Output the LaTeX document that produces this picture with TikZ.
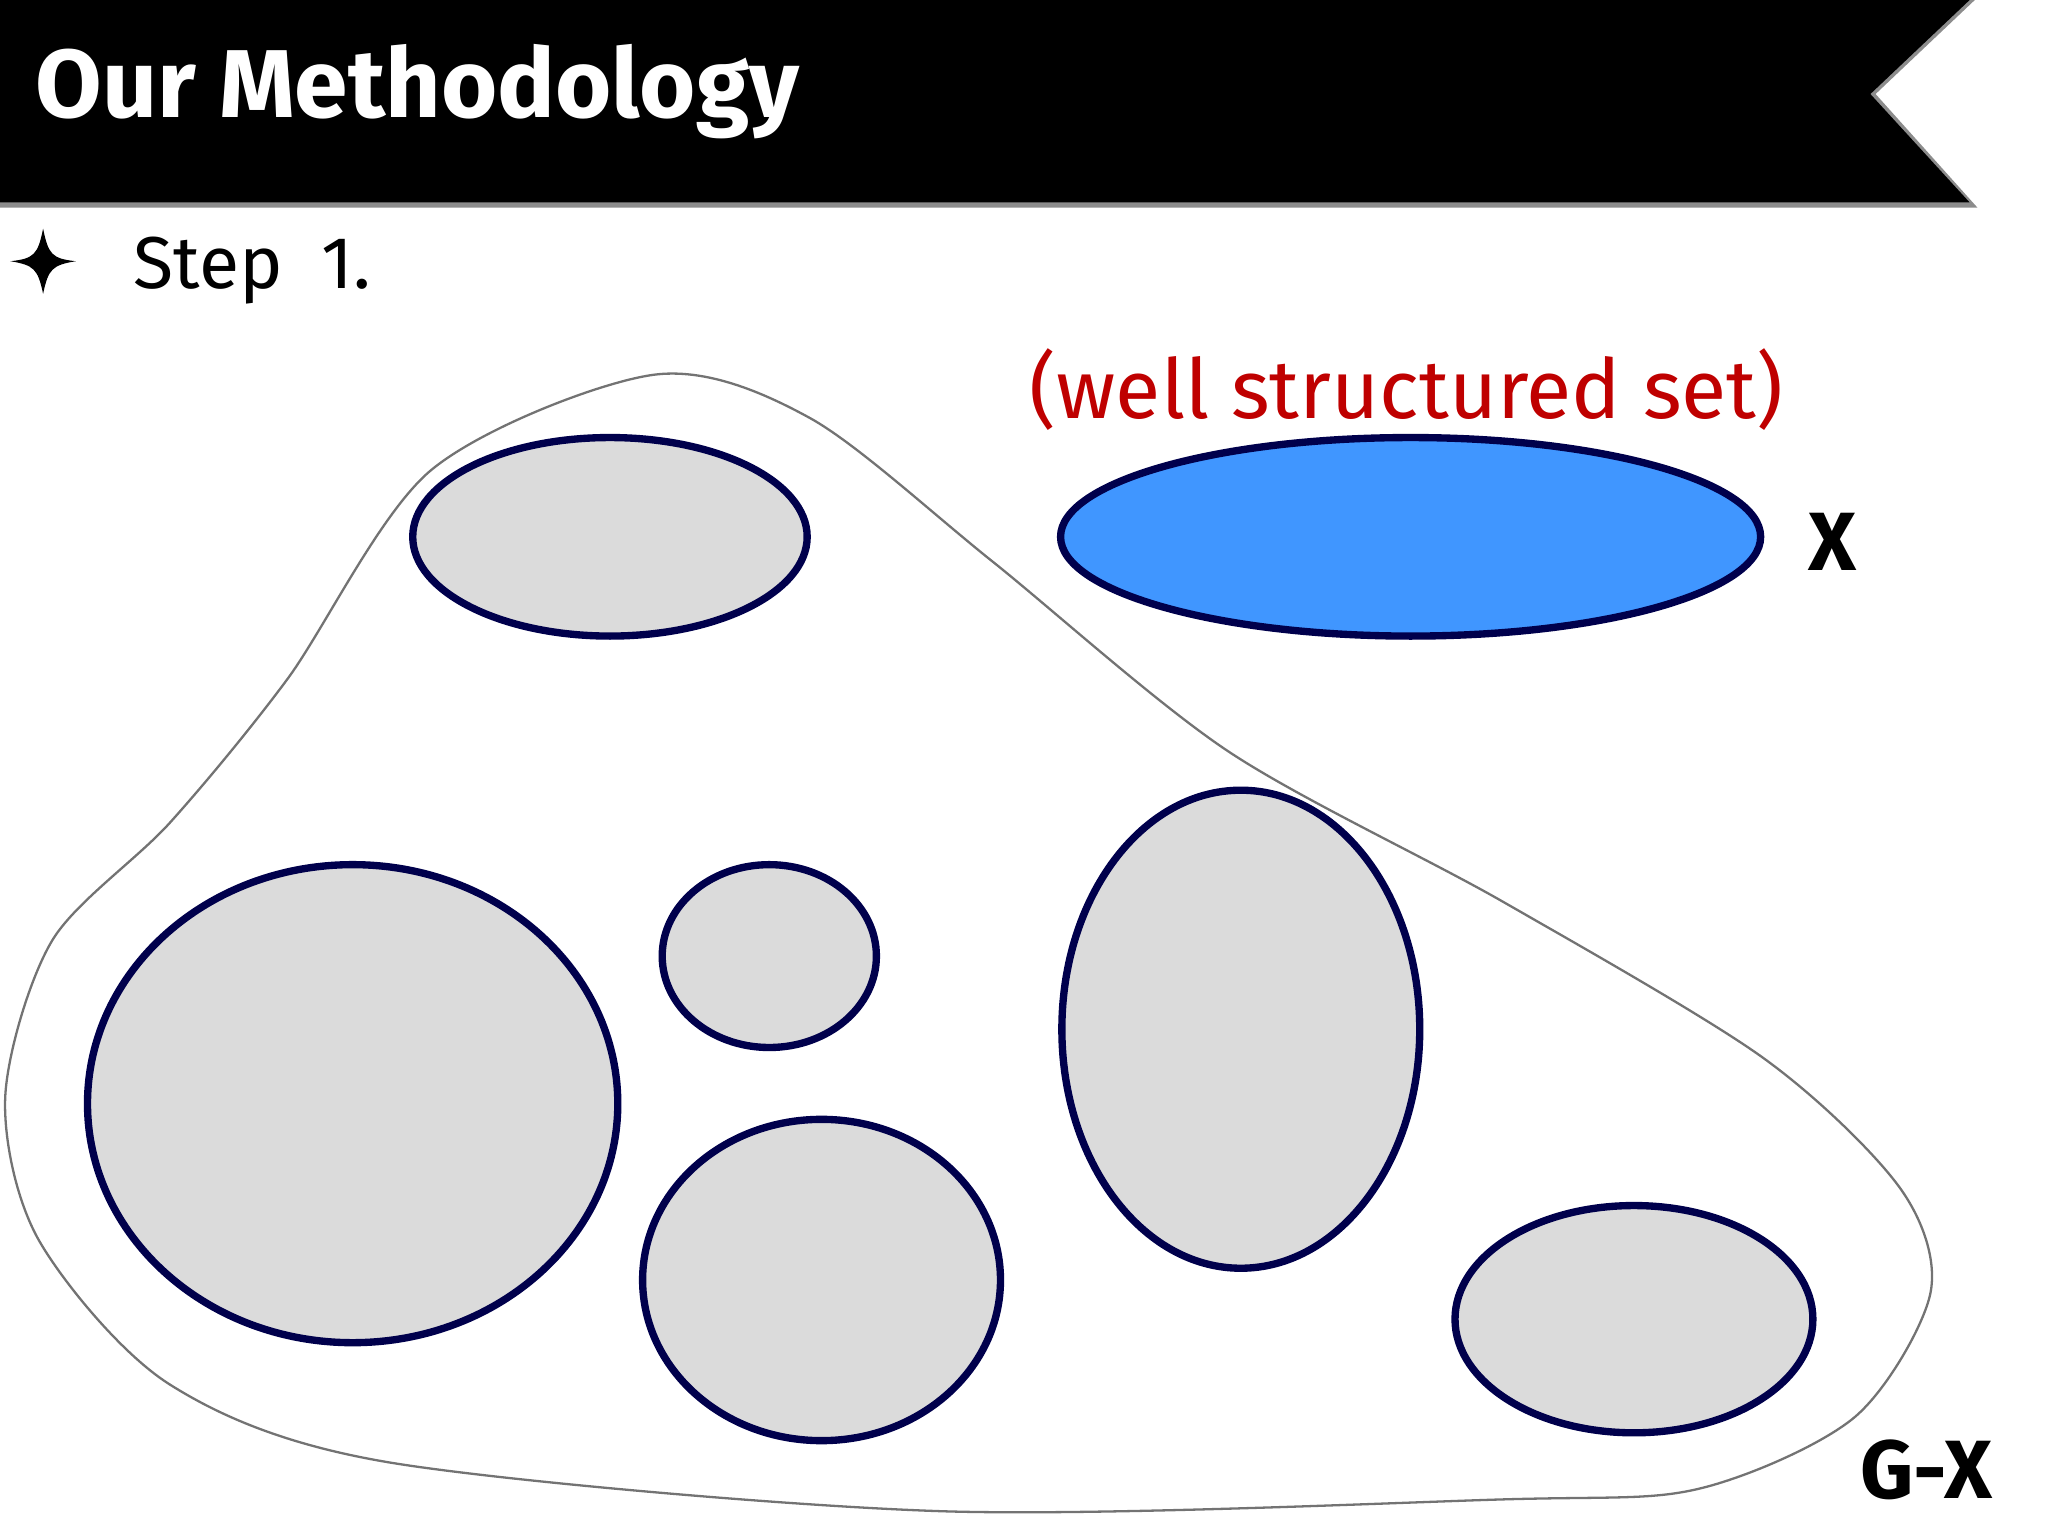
\documentclass[tikz,border=0pt]{standalone}
\usepackage{fontspec}
\setmainfont{Fira Sans}
\begin{document}
\begin{tikzpicture}[x=0.01cm,y=-0.01cm,
  blob/.style={draw=black!55,line width=0.5pt},
  cell/.style={draw=blue!30!black,line width=1.6pt,fill=black!14},
  xset/.style={draw=blue!30!black,line width=1.6pt,fill=blue!55!cyan!75}]
\useasboundingbox (0,0) rectangle (1568,1176);
\fill[black!45] (0,0) -- (1512,0) -- (1436,72) -- (1514,159) -- (0,159) -- cycle;
\fill[black] (0,0) -- (1508,0) -- (1432,72) -- (1508,155) -- (0,155) -- cycle;
\node[anchor=west,text=white,font=\fontsize{21}{24}\selectfont\bfseries] (title) at (15,70) {Our Methodology};
\fill[black] (33,175) .. controls (37,195) and (40,198) .. (58,200) .. controls (40,203) and (37,206) .. (33,225) .. controls (29,206) and (26,203) .. (8,200) .. controls (26,198) and (29,195) .. (33,175) -- cycle;
\node[anchor=west,font=\fontsize{16}{20}\selectfont] (step) at (90,207) {Step\ \ 1.};
\draw[blob] plot[smooth cycle,tension=0.5] coordinates {(500,287) (620,320) (760,430) (940,575) (1150,690) (1350,810) (1455,910) (1478,990) (1420,1085) (1300,1140) (1150,1148) (720,1157) (300,1120) (130,1060) (30,950) (4,840) (40,720) (130,630) (220,520) (330,360)};
\draw[cell] (467,411) ellipse [x radius=151,y radius=76];
\draw[xset] (1080,411) ellipse [x radius=268,y radius=76];
\draw[cell] (270,845) ellipse [x radius=203,y radius=183];
\draw[cell] (589,732) ellipse [x radius=82,y radius=70];
\draw[cell] (629,980) ellipse [x radius=137,y radius=123];
\draw[cell] (950,788) ellipse [x radius=137,y radius=183];
\draw[cell] (1251,1010) ellipse [x radius=137,y radius=87];
\node[text=red!75!black,font=\fontsize{18}{22}\selectfont] (lbl) at (1077,298) {(well structured set)};
\node[font=\fontsize{18}{22}\selectfont\bfseries] (x) at (1403,415) {X};
\node[font=\fontsize{18}{22}\selectfont\bfseries] (gx) at (1475,1125) {G-X};
\end{tikzpicture}
\end{document}
